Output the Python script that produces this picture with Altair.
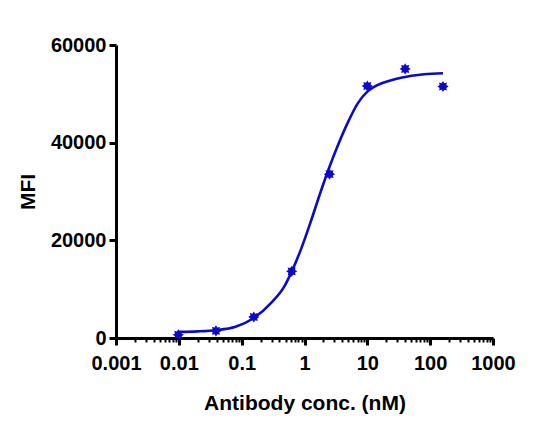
import altair as alt
import pandas as pd

# Measured points (antibody concentration in nM, MFI)
conc = [0.0098, 0.039, 0.156, 0.625, 2.5, 10, 40, 160]
mfi = [650, 1450, 4300, 13650, 33550, 51600, 55100, 51500]

# Fitted curve
curve_x = [0.0098, 0.02, 0.039, 0.08, 0.156, 0.3, 0.47, 0.625, 0.869, 1.256, 1.815,
           2.46, 3.34, 4.84, 7.0, 10.1, 13.0, 16.5, 24.0, 34.4, 80, 160]
curve_y = [1250, 1350, 1600, 2300, 4100, 7300, 10400, 13600, 18000, 23800, 30000,
           34800, 39200, 44000, 48000, 50500, 51500, 52100, 52800, 53300, 54000, 54200]

x_major = [0.001, 0.01, 0.1, 1, 10, 100, 1000]
x_ticks = sorted(set([round(m * d, 6) for d in x_major[:-1] for m in range(1, 10)] + [1000]))
y_ticks = [0, 20000, 40000, 60000]

pts = pd.DataFrame({"x": conc, "y": mfi})
crv = pd.DataFrame({"x": curve_x, "y": curve_y})

BLUE = "#0A0AC8"
FONT = "Liberation Sans"
major_js = "[" + ",".join(repr(v) for v in x_major) + "]"
is_major = f"indexof({major_js}, datum.value) >= 0"

xscale = alt.Scale(type="log", domain=[0.001, 1000], nice=False)
yscale = alt.Scale(domain=[0, 60000], nice=False, zero=True)

xaxis = alt.Axis(
    values=x_ticks,
    format="~g",
    labelExpr=f"{is_major} ? datum.label : ''",
    labelOverlap=False,
    labelBound=False,
    labelFlush=False,
    tickSize={"condition": {"test": is_major, "value": 7}, "value": 4},
    tickWidth={"condition": {"test": is_major, "value": 3}, "value": 2},
    title="Antibody conc. (nM)",
    titlePadding=19,
    labelPadding=8,
    grid=False,
)
yaxis = alt.Axis(
    values=y_ticks,
    format="d",
    tickSize=7,
    tickWidth=3,
    labelPadding=3,
    title="MFI",
    titlePadding=12,
    grid=False,
)

star = ("M1,0L0.6,0.25L0.707,0.707L0.25,0.6L0,1L-0.25,0.6L-0.707,0.707L-0.6,0.25"
        "L-1,0L-0.6,-0.25L-0.707,-0.707L-0.25,-0.6L0,-1L0.25,-0.6L0.707,-0.707L0.6,-0.25Z")

line = alt.Chart(crv).mark_line(color=BLUE, strokeWidth=2.6, interpolate="monotone").encode(
    x=alt.X("x:Q", scale=xscale, axis=xaxis),
    y=alt.Y("y:Q", scale=yscale, axis=yaxis),
)
points = alt.Chart(pts).mark_point(shape=star, filled=True, color=BLUE, size=125, opacity=1).encode(
    x=alt.X("x:Q", scale=xscale),
    y=alt.Y("y:Q", scale=yscale),
)

chart = (line + points).properties(
    width=377,
    height=293,
    autosize="none",
    padding={"left": 108, "top": 37, "right": 56, "bottom": 94},
).configure_view(stroke=None).configure_axis(
    domainColor="black",
    domainWidth=3,
    tickColor="black",
    labelFont=FONT,
    labelFontSize=20,
    labelFontWeight="bold",
    labelColor="black",
    titleFont=FONT,
    titleFontSize=21,
    titleFontWeight="bold",
    titleColor="black",
)

chart.save("out.html", embed_options={"renderer": "svg", "actions": False})
